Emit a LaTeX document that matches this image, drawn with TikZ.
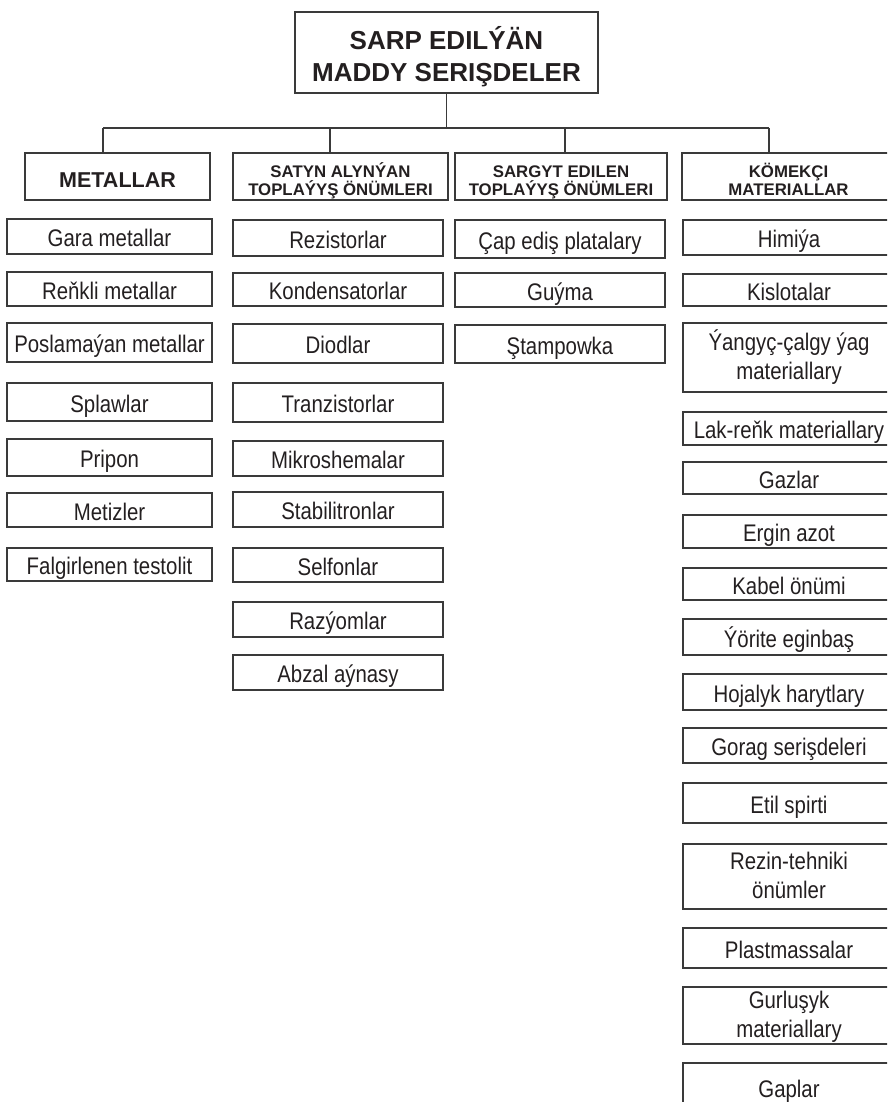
\documentclass[tikz,border=0pt]{standalone}
\usepackage{fontspec}
\setmainfont{Liberation Sans}
\newfontfamily\itemfont[FakeStretch=0.85]{Liberation Sans}
\definecolor{ink}{HTML}{231F20}
\definecolor{rule}{HTML}{3A3A3A}
\tikzset{
  box/.style={draw=rule, line width=1.1pt, inner sep=0pt, outer sep=0pt, text=ink},
  itm/.style={box, font=\itemfont\fontsize{24}{29}\selectfont, text height=20.5pt, text depth=0pt},
  itmtwo/.style={box, font=\itemfont\fontsize{24}{29}\selectfont, align=center, text height=44pt, text depth=1pt},
  hdone/.style={box, font=\bfseries\fontsize{21.5}{24}\selectfont, text height=21.5pt, text depth=0pt},
  hdtwo/.style={box, font=\bfseries\fontsize{16.8}{18}\selectfont, align=center, text height=40pt, text depth=1pt},
  ttl/.style={box, font=\bfseries\fontsize{26}{32}\selectfont, align=center, text height=60pt, text depth=1pt},
  conn/.style={draw=rule, line width=1.1pt},
}
% \mybox{style}{name}{x1}{y1}{x2}{y2}{text}
\newcommand\mybox[7]{%
  \node[#1, minimum width={(#5-#3)*1pt}, minimum height={(#6-#4)*1pt}]
    (#2) at ({(#3+#5)/2},{(#4+#6)/2}) {#7};}
\begin{document}
\begin{tikzpicture}[x=1pt,y=-1pt]
\useasboundingbox (0,0) rectangle (887,1102);
\clip (0,0) rectangle (887,1102);
% title
\mybox{ttl}{title}{295}{12}{598}{93}{SARP EDILÝÄN\\MADDY SERIŞDELER}
% headers
\mybox{hdone}{h1}{25}{153}{210}{200}{METALLAR}
\mybox{hdtwo}{h2}{233}{153}{448}{200}{SATYN ALYNÝAN\\TOPLAÝYŞ ÖNÜMLERI}
\mybox{hdtwo}{h3}{455}{153}{667}{200}{SARGYT EDILEN\\TOPLAÝYŞ ÖNÜMLERI}
\mybox{hdtwo}{h4}{682}{153}{895}{200}{KÖMEKÇI\\MATERIALLAR}
% connectors
\coordinate (d1) at (103,128);
\coordinate (d2) at (330,128);
\coordinate (d3) at (565,128);
\coordinate (d4) at (769,128);
\draw[conn] (title.south) -- (title.south |- d1);
\draw[conn] (d1) -- (d4);
\draw[conn] (d1) -- (d1 |- h1.north);
\draw[conn] (d2) -- (d2 |- h2.north);
\draw[conn] (d3) -- (d3 |- h3.north);
\draw[conn] (d4) -- (d4 |- h4.north);
% column 1
\mybox{itm}{a1}{7}{219}{212}{254}{Gara metallar}
\mybox{itm}{a2}{7}{272}{212}{306}{Reňkli metallar}
\mybox{itm}{a3}{7}{323}{212}{362}{Poslamaýan metallar}
\mybox{itm}{a4}{7}{383}{212}{421}{Splawlar}
\mybox{itm}{a5}{7}{439}{212}{476}{Pripon}
\mybox{itm}{a6}{7}{493}{212}{527}{Metizler}
\mybox{itm}{a7}{7}{548}{212}{581}{Falgirlenen testolit}
% column 2
\mybox{itm}{b1}{233}{220}{443}{256}{Rezistorlar}
\mybox{itm}{b2}{233}{273}{443}{306}{Kondensatorlar}
\mybox{itm}{b3}{233}{324}{443}{363}{Diodlar}
\mybox{itm}{b4}{233}{383}{443}{422}{Tranzistorlar}
\mybox{itm}{b5}{233}{441}{443}{476}{Mikroshemalar}
\mybox{itm}{b6}{233}{492}{443}{527}{Stabilitronlar}
\mybox{itm}{b7}{233}{548}{443}{582}{Selfonlar}
\mybox{itm}{b8}{233}{602}{443}{637}{Razýomlar}
\mybox{itm}{b9}{233}{655}{443}{690}{Abzal aýnasy}
% column 3
\mybox{itm}{c1}{455}{220}{665}{258}{Çap ediş platalary}
\mybox{itm}{c2}{455}{273}{665}{307}{Guýma}
\mybox{itm}{c3}{455}{325}{665}{363}{Ştampowka}
% column 4
\mybox{itm}{e1}{683}{220}{895}{255}{Himiýa}
\mybox{itm}{e2}{683}{274}{895}{306}{Kislotalar}
\mybox{itmtwo}{e3}{683}{323}{895}{392}{Ýangyç-çalgy ýag\\materiallary}
\mybox{itm}{e4}{683}{412}{895}{445}{Lak-reňk materiallary}
\mybox{itm}{e5}{683}{462}{895}{494}{Gazlar}
\mybox{itm}{e6}{683}{515}{895}{548}{Ergin azot}
\mybox{itm}{e7}{683}{568}{895}{600}{Kabel önümi}
\mybox{itm}{e8}{683}{619}{895}{655}{Ýörite eginbaş}
\mybox{itm}{e9}{683}{674}{895}{710}{Hojalyk harytlary}
\mybox{itm}{e10}{683}{728}{895}{763}{Gorag serişdeleri}
\mybox{itm}{e11}{683}{783}{895}{823}{Etil spirti}
\mybox{itmtwo}{e12}{683}{844}{895}{909}{Rezin-tehniki\\önümler}
\mybox{itm}{e13}{683}{928}{895}{968}{Plastmassalar}
\mybox{itmtwo}{e14}{683}{987}{895}{1044}{Gurluşyk\\materiallary}
\mybox{itm}{e15}{683}{1063}{895}{1112}{Gaplar}
\end{tikzpicture}
\end{document}
